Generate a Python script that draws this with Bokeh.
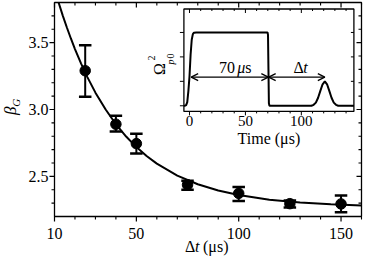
import math
from bokeh.plotting import figure
from bokeh.models import (Range1d, Label, LabelSet, ColumnDataSource, Arrow, OpenHead)
from bokeh.embed import file_html
from bokeh.resources import INLINE

FONT = "Liberation Serif"

# ---------------- main data ----------------
dt = [25, 40, 50, 75, 100, 125, 150]
beta = [3.29, 2.89, 2.745, 2.437, 2.373, 2.296, 2.294]
beta_hi = [3.48, 2.953, 2.819, 2.467, 2.42, 2.319, 2.357]
beta_lo = [3.096, 2.835, 2.671, 2.40, 2.315, 2.268, 2.232]

fit_x = [12, 14, 16, 18, 20, 23, 26, 30, 35, 40, 45, 50, 55, 60, 70, 80, 90,
         100, 115, 130, 145, 160]
fit_y = [3.800, 3.704, 3.615, 3.531, 3.452, 3.343, 3.244, 3.126, 3.000, 2.890,
         2.798, 2.719, 2.652, 2.595, 2.506, 2.441, 2.394, 2.360, 2.325, 2.304,
         2.291, 2.283]

x_ticks = [10, 50, 100, 150]
x_tick_labels = ["10", "50", "100", "150"]
x_minor = [20, 30, 40, 60, 70, 80, 90, 110, 120, 130, 140, 160]
y_ticks = [2.5, 3.0, 3.5]
y_tick_labels = ["2.5", "3.0", "3.5"]
y_minor = [2.3, 2.4, 2.6, 2.7, 2.8, 2.9, 3.1, 3.2, 3.3, 3.4, 3.6, 3.7]

# ---------------- inset data ----------------
pulse_t = [-5, -4, -3, -2, -1, 0, 1, 2, 3, 4, 6, 69.8, 70.2, 70.6, 71.0, 71.5,
           109, 111, 113, 115, 117, 119, 121, 123, 125, 127, 129, 131, 133, 147]
pulse_a = [0.0, 0.0, 0.03, 0.15, 0.6, 1.2, 2.1, 2.7, 2.93, 2.99, 3.0, 3.0, 2.9,
           1.5, 0.1, 0.0, 0.0, 0.04, 0.13, 0.33, 0.61, 0.88, 1.0, 0.88, 0.61,
           0.33, 0.13, 0.04, 0.0, 0.0]
inset_x_ticks = [0, 50, 100]
inset_x_labels = ["0", "50", "100"]
inset_x_minor = [10, 20, 30, 40, 60, 70, 80, 90, 110, 120, 130, 140]
inset_y_ticks = [0, 1, 2, 3]

# ---------------- layout (canvas pixels) ----------------
W, H = 365, 258
X0, X1 = 10, 160          # main x range
Y0, Y1 = 2.2, 3.8         # main y range
T0, T1 = -5, 147          # inset time range
A0, A1 = -0.23, 3.96      # inset amplitude range
MAIN_PX = (54, 361, 42, 256)        # left, right, bottom, top (from bottom)
INSET_PX = (183.4, 353.4, 147.1, 249.5)


def fit_range(d0, d1, p0, p1, total):
    k = (d1 - d0) / (p1 - p0)
    return Range1d(d0 - p0 * k, d1 + (total - p1) * k)


p = figure(width=W, height=H, output_backend="svg", toolbar_location=None,
           x_axis_type=None, y_axis_type=None,
           x_range=fit_range(X0, X1, MAIN_PX[0], MAIN_PX[1], W),
           y_range=fit_range(Y0, Y1, MAIN_PX[2], MAIN_PX[3], H),
           min_border=0, min_border_left=0, min_border_right=0,
           min_border_top=0, min_border_bottom=0)
p.extra_x_ranges = {"ix": fit_range(T0, T1, INSET_PX[0], INSET_PX[1], W)}
p.extra_y_ranges = {"iy": fit_range(A0, A1, INSET_PX[2], INSET_PX[3], H)}
p.grid.visible = False
p.outline_line_color = None
p.background_fill_color = "white"
p.border_fill_color = "white"


def ticks(xs, ys, length, angle, width=1.1, **kw):
    p.ray(x=xs, y=ys, length=length, length_units="screen", angle=angle,
          line_color="black", line_width=width, **kw)


# ---------------- main axes ----------------
p.quad(left=[X0], right=[X1], bottom=[Y0], top=[Y1], fill_color=None,
       line_color="black", line_width=1.3)
DOWN, LEFT = -math.pi / 2, math.pi
ticks(x_ticks, [Y0] * len(x_ticks), 5, DOWN, 1.2)           # bottom, outward
ticks(x_minor, [Y0] * len(x_minor), 3, DOWN)
ticks(x_ticks, [Y1] * len(x_ticks), 5, DOWN, 1.2)           # top, inward
ticks(x_minor, [Y1] * len(x_minor), 3, DOWN)
ticks([X0] * len(y_ticks), y_ticks, 5, LEFT, 1.2)           # left, outward
ticks([X0] * len(y_minor), y_minor, 3, LEFT)
ticks([X1] * len(y_ticks), y_ticks, 5, LEFT, 1.2)           # right, inward
ticks([X1] * len(y_minor), y_minor, 3, LEFT)

txt = dict(text_font=FONT, text_color="black", text_baseline="middle")
p.add_layout(LabelSet(x="x", y="y", text="t", y_offset=-16.5, text_align="center",
                      text_font_size="16px",
                      source=ColumnDataSource(dict(x=x_ticks, y=[Y0] * len(x_ticks),
                                                   t=x_tick_labels)), **txt))
p.add_layout(LabelSet(x="x", y="y", text="t", x_offset=-6, text_align="right",
                      text_font_size="16px",
                      source=ColumnDataSource(dict(x=[X0] * len(y_ticks), y=y_ticks,
                                                   t=y_tick_labels)), **txt))

# axis titles: beta_G and Δt (μs)
p.add_layout(Label(x=X0, y=2.99, x_offset=-44.5, angle=math.pi / 2, text="β",
                   text_font_size="17px", text_font_style="italic",
                   text_align="center", **txt))
p.add_layout(Label(x=X0, y=2.99, x_offset=-38.3, y_offset=8, angle=math.pi / 2,
                   text="G", text_font_size="11px", text_font_style="italic",
                   text_align="center", **txt))
p.add_layout(Label(x=X0, y=Y0, x_offset=130.6, y_offset=-30, text="Δ",
                   text_font_size="16px", text_align="left", **txt))
p.add_layout(Label(x=X0, y=Y0, x_offset=140.4, y_offset=-30, text="t",
                   text_font_size="16px", text_font_style="italic",
                   text_align="left", **txt))
p.add_layout(Label(x=X0, y=Y0, x_offset=148.5, y_offset=-30, text="(μs)",
                   text_font_size="16px", text_align="left", **txt))

# ---------------- main data marks ----------------
p.line(fit_x, fit_y, line_color="black", line_width=2)
p.segment(x0=dt, y0=beta_lo, x1=dt, y1=beta_hi, line_color="black", line_width=2)
p.scatter(dt, beta_hi, marker="dash", size=12.5, line_color="black", line_width=2.5)
p.scatter(dt, beta_lo, marker="dash", size=12.5, line_color="black", line_width=2.5)
p.scatter(dt, beta, marker="circle", size=10.5, fill_color="black", line_color="black")

# ---------------- inset ----------------
ir = dict(x_range_name="ix", y_range_name="iy")
p.quad(left=[T0], right=[T1], bottom=[A0], top=[A1], fill_color="white",
       line_color="black", line_width=1.3, **ir)
ticks(inset_x_ticks, [A0] * 3, 4, DOWN, 1.0, **ir)
ticks(inset_x_minor, [A0] * len(inset_x_minor), 2, DOWN, 1.0, **ir)
ticks(inset_x_ticks, [A1] * 3, 4, DOWN, 1.0, **ir)
ticks(inset_x_minor, [A1] * len(inset_x_minor), 2, DOWN, 1.0, **ir)
ticks([T0] * 4, inset_y_ticks, 4, LEFT, 1.0, **ir)
ticks([T1] * 4, inset_y_ticks, 3, LEFT, 1.0, **ir)

p.line(pulse_t, pulse_a, line_color="black", line_width=2, **ir)

for xs, xe in ((1.5, 70.5), (70.8, 121)):
    p.add_layout(Arrow(start=OpenHead(size=7, line_width=1.3),
                       end=OpenHead(size=7, line_width=1.3),
                       x_start=xs, y_start=1.17, x_end=xe, y_end=1.17,
                       line_width=1.3, **ir))

il = dict(txt, **ir)
p.add_layout(Label(x=40.7, y=1.56, text="70", text_font_size="16px",
                   text_align="right", **il))
p.add_layout(Label(x=42.6, y=1.56, text="μ", text_font_size="16px",
                   text_font_style="italic", text_align="left", **il))
p.add_layout(Label(x=49.8, y=1.56, text="s", text_font_size="16px",
                   text_align="left", **il))
p.add_layout(Label(x=93.0, y=1.56, text="Δ", text_font_size="16px",
                   text_align="left", **il))
p.add_layout(Label(x=101.8, y=1.56, text="t", text_font_size="16px",
                   text_font_style="italic", text_align="left", **il))

p.add_layout(LabelSet(x="x", y="y", text="t", y_offset=-10, text_align="center",
                      text_font_size="15px",
                      source=ColumnDataSource(dict(x=inset_x_ticks, y=[A0] * 3,
                                                   t=inset_x_labels)), **il))
p.add_layout(Label(x=(T0 + T1) / 2, y=A0, y_offset=-27, text="Time (μs)",
                   text_font_size="16px", text_align="center", **il))

p.add_layout(Label(x=T0, y=1.5, x_offset=-24.6, y_offset=0, angle=math.pi / 2,
                   text="Ω", text_font_size="16px", text_align="center", **il))
p.add_layout(Label(x=T0, y=1.5, x_offset=-32.5, y_offset=11, angle=math.pi / 2,
                   text="2", text_font_size="10px", text_align="center", **il))
p.add_layout(Label(x=T0, y=1.5, x_offset=-13.5, y_offset=7, angle=math.pi / 2,
                   text="p", text_font_size="10px", text_font_style="italic",
                   text_align="center", **il))
p.add_layout(Label(x=T0, y=1.5, x_offset=-13.5, y_offset=13, angle=math.pi / 2,
                   text="0", text_font_size="10px", text_align="center", **il))

open("out.html", "w").write(file_html(p, INLINE))
